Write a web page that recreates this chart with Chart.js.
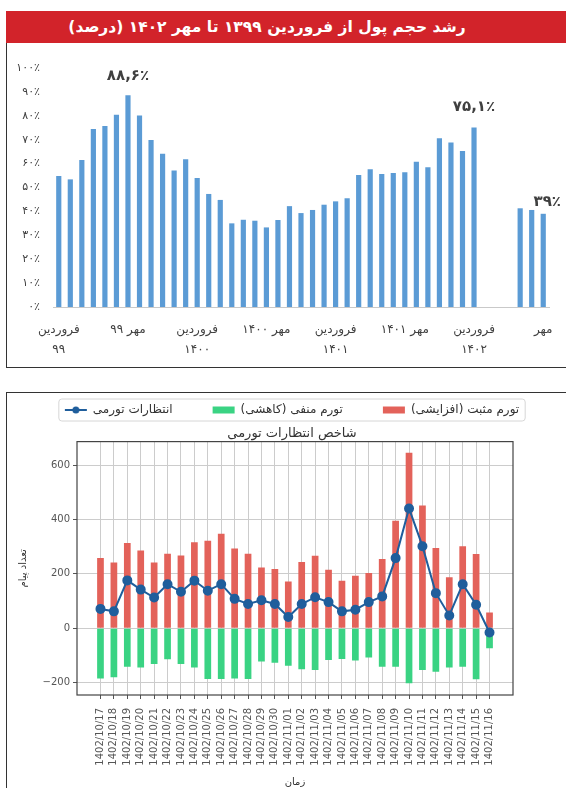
<!DOCTYPE html>
<html>
<head>
<meta charset="utf-8">
<script src="https://cdn.jsdelivr.net/npm/chart.js@4.4.0/dist/chart.umd.min.js"></script>
<style>
  body { margin: 0; width: 566px; height: 788px; overflow: hidden; position: relative; background: #fff; font-family: "DejaVu Sans", sans-serif; }
  #head { position: absolute; left: 6px; top: 11px; width: 560px; height: 32px; box-sizing: border-box; padding-right: 38px;
          background: #d2232a; color: #fff; font: bold 15.5px "DejaVu Sans"; direction: rtl; text-align: center; line-height: 32px; }
  #box1 { position: absolute; left: 6px; top: 43px; width: 562px; height: 324px; border-left: 1.5px solid #333; border-bottom: 1.5px solid #333; }
  #box2 { position: absolute; left: 6px; top: 392px; width: 562px; height: 400px; border-left: 1.5px solid #333; border-top: 1.5px solid #333; }
  canvas { position: absolute; }
  #c1 { left: 8px; top: 43px; }
  #c2 { left: 8px; top: 394px; }
</style>
</head>
<body>
<div id="head">رشد حجم پول از فروردین ۱۳۹۹ تا مهر ۱۴۰۲ (درصد)</div>
<div id="box1"></div>
<div id="box2"></div>
<canvas id="c1" width="558" height="324"></canvas>
<canvas id="c2" width="558" height="394"></canvas>
<script>
// --- money growth chart (top) ---
const growthLabels = [
  ['فروردین', '۹۹'], '', '', '', '', '', 'مهر ۹۹', '', '', '', '', '',
  ['فروردین', '۱۴۰۰'], '', '', '', '', '', 'مهر ۱۴۰۰', '', '', '', '', '',
  ['فروردین', '۱۴۰۱'], '', '', '', '', '', 'مهر ۱۴۰۱', '', '', '', '', '',
  ['فروردین', '۱۴۰۲'], '', '', '', '', '', 'مهر'
];
const growthVals = [
  54.8, 53.4, 61.5, 74.5, 75.7, 80.4, 88.6, 80.1, 69.9, 64.1, 57.1, 61.8,
  54.0, 47.3, 44.8, 35.0, 36.5, 36.1, 33.3, 36.4, 42.2, 39.3, 40.6, 42.8,
  44.2, 45.5, 55.2, 57.6, 55.7, 56.1, 56.4, 60.8, 58.5, 70.6, 68.8, 65.3,
  75.1, null, null, null, 41.3, 40.6, 39.0
];
const growthTicks = [0, 10, 20, 30, 40, 50, 60, 70, 80, 90, 100];
const labelIdx = [6, 36, 42];
const labelDx = [0, 0, 4];
const labelDy = [19, 20, 12];

// --- inflation expectations chart (bottom) ---
const days = [
  '1402/10/17', '1402/10/18', '1402/10/19', '1402/10/20', '1402/10/21', '1402/10/22', '1402/10/23',
  '1402/10/24', '1402/10/25', '1402/10/26', '1402/10/27', '1402/10/28', '1402/10/29', '1402/10/30',
  '1402/11/01', '1402/11/02', '1402/11/03', '1402/11/04', '1402/11/05', '1402/11/06', '1402/11/07',
  '1402/11/08', '1402/11/09', '1402/11/10', '1402/11/11', '1402/11/12', '1402/11/13', '1402/11/14',
  '1402/11/15', '1402/11/16'
];
const posVals = [258, 242, 314, 286, 242, 274, 268, 316, 322, 348, 293, 274, 223, 218, 172,
                 244, 267, 215, 175, 193, 203, 255, 396, 646, 452, 295, 188, 302, 273, 58];
const negVals = [-185, -181, -142, -145, -132, -114, -132, -145, -187, -187, -185, -187, -123, -127, -138,
                 -151, -154, -117, -113, -119, -108, -142, -142, -203, -154, -160, -145, -142, -188, -74];
const expVals = [71, 62, 176, 142, 113, 162, 134, 175, 138, 162, 108, 89, 103, 89, 41,
                 89, 114, 96, 62, 68, 96, 117, 258, 441, 302, 129, 47, 162, 86, -16];
const lowTicks = [-200, 0, 200, 400, 600];

const faDigits = '۰۱۲۳۴۵۶۷۸۹';
function toFa(v) {
  return String(v).replace(/[0-9]/g, d => faDigits[d]).replace('.', ',');
}

// value labels over a few bars
const valueLabels = {
  id: 'valueLabels',
  afterDatasetsDraw(chart) {
    const meta = chart.getDatasetMeta(0);
    const ctx = chart.ctx;
    ctx.save();
    ctx.font = 'bold 15px "DejaVu Sans"';
    ctx.fillStyle = '#404040';
    ctx.textAlign = 'center';
    ctx.textBaseline = 'middle';
    labelIdx.forEach((i, k) => {
      const el = meta.data[i];
      ctx.fillText(toFa(growthVals[i]) + '٪', el.x + labelDx[k], el.y - labelDy[k]);
    });
    ctx.restore();
  }
};

new Chart(document.getElementById('c1'), {
  type: 'bar',
  data: {
    labels: growthLabels,
    datasets: [{
      data: growthVals,
      backgroundColor: '#5b9bd5',
      barPercentage: 0.45,
      categoryPercentage: 1
    }]
  },
  options: {
    responsive: false,
    animation: false,
    devicePixelRatio: 1,
    layout: { padding: { top: 25, right: 17, left: 0, bottom: 0 } },
    plugins: { legend: { display: false }, tooltip: { enabled: false } },
    scales: {
      x: {
        grid: { display: false, drawTicks: false },
        border: { color: '#c9c9c9', width: 1 },
        ticks: { autoSkip: false, maxRotation: 0, minRotation: 0, padding: 13, color: '#404040',
                 font: { family: 'DejaVu Sans', size: 12, lineHeight: 1.65 } },
        afterFit: s => { s.height = 60; }
      },
      y: {
        min: 0, max: 100,
        afterBuildTicks: s => { s.ticks = growthTicks.map(v => ({ value: v })); },
        grid: { display: false, drawTicks: false },
        border: { display: false },
        ticks: { padding: 13, color: '#404040', font: { family: 'DejaVu Sans', size: 11 },
                 callback: v => toFa(v) + '٪' },
        afterFit: s => { s.width = 45; }
      }
    }
  },
  plugins: [valueLabels]
});

// legend icon for the line series: a short line with a round marker
const lineIcon = document.createElement('canvas');
lineIcon.width = 24;
lineIcon.height = 10;
(function () {
  const g = lineIcon.getContext('2d');
  g.strokeStyle = '#1f5e9c';
  g.fillStyle = '#1f5e9c';
  g.lineWidth = 2;
  g.beginPath(); g.moveTo(1, 5); g.lineTo(23, 5); g.stroke();
  g.beginPath(); g.arc(12, 5, 3.5, 0, Math.PI * 2); g.fill();
})();

// frame round the plot area and the legend
const plotFrame = {
  id: 'plotFrame',
  beforeDraw(chart) {
    const boxes = chart.legend.legendHitBoxes;
    if (!boxes || !boxes.length) return;
    const l = Math.min(...boxes.map(b => b.left)) - 6;
    const r = Math.max(...boxes.map(b => b.left + b.width)) + 6;
    const t = Math.min(...boxes.map(b => b.top)) - 5;
    const b = Math.max(...boxes.map(b => b.top + b.height)) + 5;
    const ctx = chart.ctx;
    ctx.save();
    ctx.strokeStyle = '#d6d6d6';
    ctx.lineWidth = 1;
    ctx.beginPath();
    ctx.roundRect(l, t, r - l, b - t, 3);
    ctx.stroke();
    ctx.restore();
  },
  afterDraw(chart) {
    const a = chart.chartArea;
    const ctx = chart.ctx;
    ctx.save();
    ctx.strokeStyle = '#444';
    ctx.lineWidth = 1.2;
    ctx.strokeRect(a.left, a.top, a.right - a.left, a.bottom - a.top);
    ctx.restore();
  }
};

new Chart(document.getElementById('c2'), {
  type: 'bar',
  data: {
    datasets: [
      {
        type: 'line',
        label: 'انتظارات تورمی',
        data: expVals.map((v, i) => ({ x: i, y: v })),
        borderColor: '#1f5e9c',
        backgroundColor: '#1f5e9c',
        borderWidth: 2,
        pointRadius: 4,
        pointBackgroundColor: '#1f5e9c',
        order: 0
      },
      {
        label: 'تورم منفی (کاهشی)\u200F',
        data: negVals.map((v, i) => ({ x: i, y: v })),
        backgroundColor: '#3ad383',
        grouped: false,
        barPercentage: 0.5,
        categoryPercentage: 1,
        order: 1
      },
      {
        label: 'تورم مثبت (افزایشی)\u200F',
        data: posVals.map((v, i) => ({ x: i, y: v })),
        backgroundColor: '#e3625a',
        grouped: false,
        barPercentage: 0.5,
        categoryPercentage: 1,
        order: 1
      }
    ]
  },
  options: {
    responsive: false,
    animation: false,
    devicePixelRatio: 1,
    layout: { padding: { top: -30, right: 0, left: 10, bottom: 0 } },
    plugins: {
      tooltip: { enabled: false },
      legend: {
        weight: 3000,
        labels: {
          usePointStyle: true, pointStyleWidth: 22, boxHeight: 7, padding: 40, color: '#333',
          font: { family: 'DejaVu Sans', size: 12 },
          generateLabels: chart => {
            const items = Chart.defaults.plugins.legend.labels.generateLabels(chart);
            items.forEach(it => { it.pointStyle = it.datasetIndex === 0 ? lineIcon : 'rect'; });
            return items;
          }
        }
      },
      title: {
        display: true,
        text: 'شاخص انتظارات تورمی',
        color: '#333',
        font: { family: 'DejaVu Sans', size: 13, weight: 'normal' },
        padding: { top: 0, bottom: 0 }
      }
    },
    scales: {
      x: {
        type: 'linear',
        min: -1.75, max: 30.75,
        offset: false,
        afterBuildTicks: s => { s.ticks = days.map((d, i) => ({ value: i })); },
        grid: { offset: false, color: '#cccccc', tickColor: '#555', tickLength: 4 },
        border: { display: false },
        ticks: { autoSkip: false, minRotation: 90, maxRotation: 90, padding: 9, color: '#555',
                 font: { family: 'DejaVu Sans', size: 10 },
                 callback: v => days[v] },
        title: { display: true, text: 'زمان', color: '#333', padding: 0,
                 font: { family: 'DejaVu Sans', size: 10 } },
        afterFit: s => { s.height = 93; }
      },
      y: {
        min: -246, max: 687,
        afterBuildTicks: s => { s.ticks = lowTicks.map(v => ({ value: v })); },
        grid: { color: '#cccccc', tickColor: '#555', tickLength: 4 },
        border: { display: false },
        ticks: { padding: 3, color: '#555', font: { family: 'DejaVu Sans', size: 10 },
                 callback: v => v < 0 ? '\u2212' + Math.abs(v) : String(v) },
        title: { display: true, text: 'تعداد پیام', color: '#333', padding: { top: -1, bottom: 0 },
                 font: { family: 'DejaVu Sans', size: 10 } },
        afterFit: s => { s.width = 59; }
      },
      // empty right-hand axis that only reserves the margin right of the plot
      yRight: {
        position: 'right',
        display: true,
        min: 0, max: 1,
        grid: { display: false, drawTicks: false },
        border: { display: false },
        ticks: { display: false },
        afterFit: s => { s.width = 53; }
      }
    }
  },
  plugins: [plotFrame]
});
</script>
</body>
</html>
